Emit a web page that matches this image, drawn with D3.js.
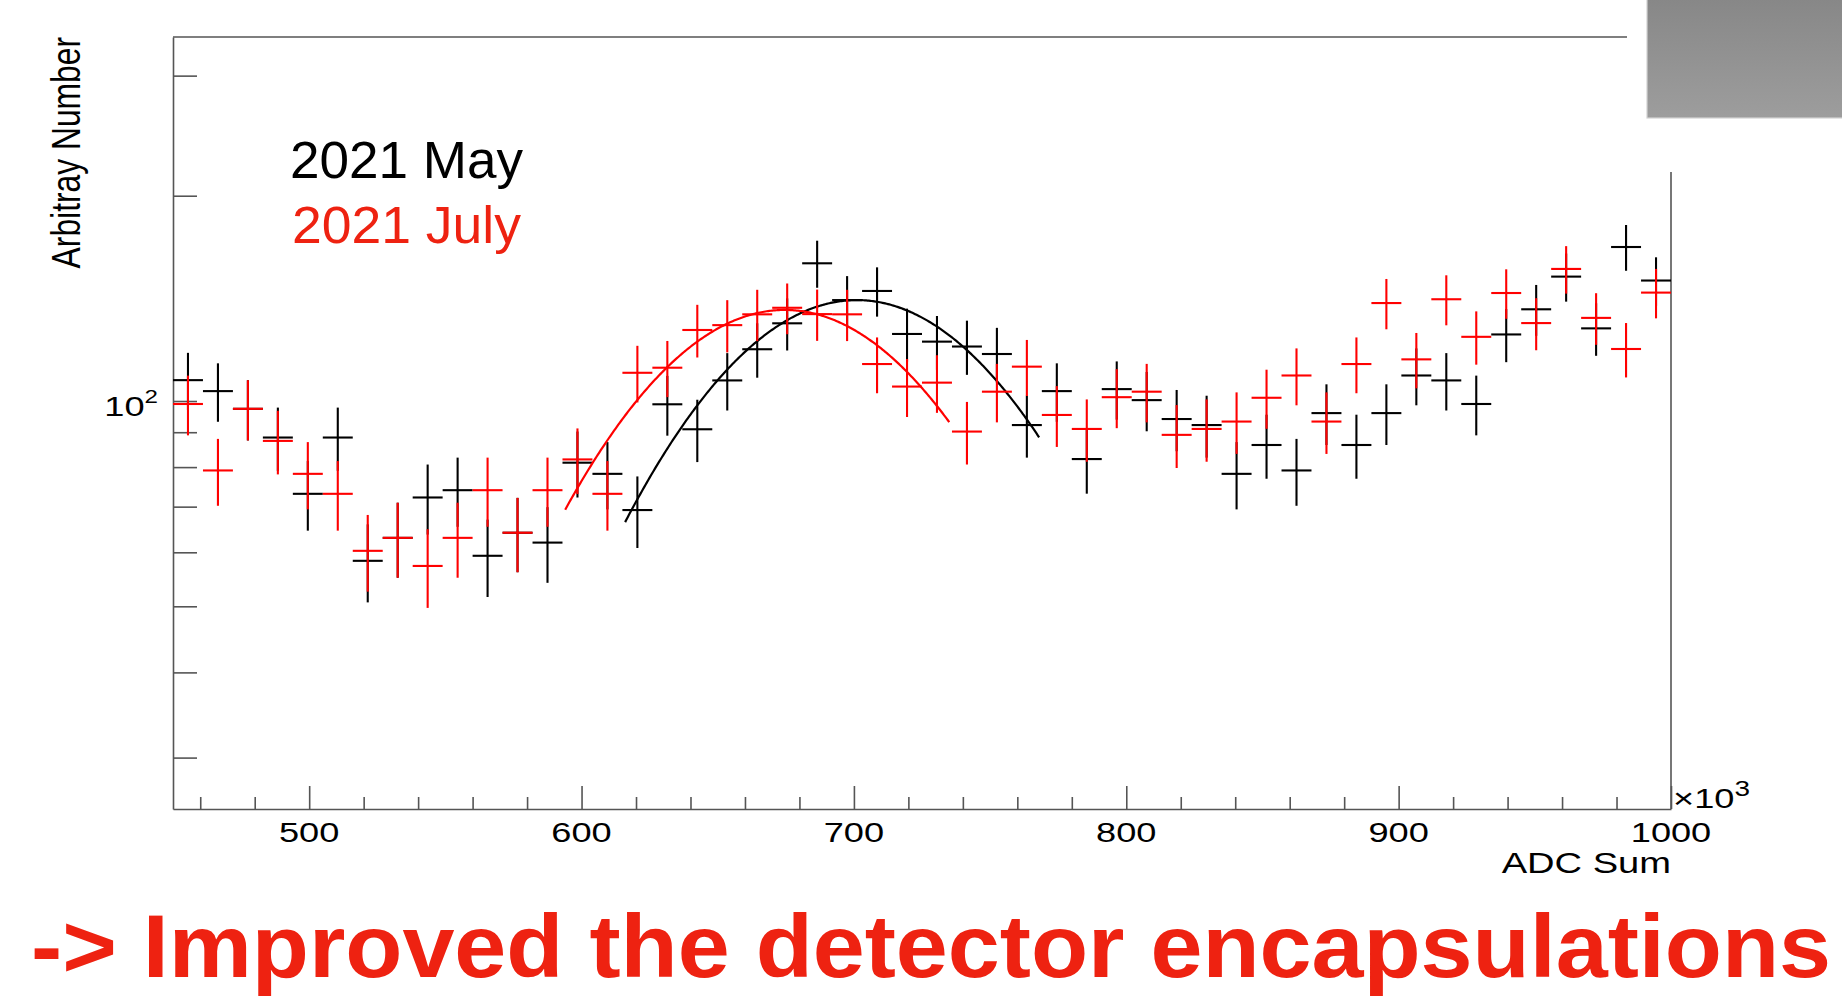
<!DOCTYPE html>
<html>
<head>
<meta charset="utf-8">
<script src="https://cdn.jsdelivr.net/npm/d3@7"></script>
<style>
  body { margin: 0; background: #fff; overflow: hidden; }
  text { font-family: "Liberation Sans", Arial, Helvetica, sans-serif; }
</style>
</head>
<body>
<script>
// bin centres (x10^3 ADC), 50 bins of width 11 from 450 to 1000
const binCenters = [
  455.5, 466.5, 477.5, 488.5, 499.5, 510.5, 521.5, 532.5, 543.5, 554.5,
  565.5, 576.5, 587.5, 598.5, 609.5, 620.5, 631.5, 642.5, 653.5, 664.5,
  675.5, 686.5, 697.5, 708.5, 719.5, 730.5, 741.5, 752.5, 763.5, 774.5,
  785.5, 796.5, 807.5, 818.5, 829.5, 840.5, 851.5, 862.5, 873.5, 884.5,
  895.5, 906.5, 917.5, 928.5, 939.5, 950.5, 961.5, 972.5, 983.5, 994.5
];
const binWidth = 11;

// 2021 May (black)
const mayCounts = [
  107.3, 103.4, 97.4, 88.4, 73.1, 88.4, 58.3, 63.0, 72.2, 74.0,
  59.3, 64.1, 62.0, 81.2, 78.2, 69.2, 98.9, 90.9, 107.2, 119.1,
  130.0, 159.2, 140.6, 145.0, 125.4, 122.2, 120.2, 117.2, 92.2, 103.4,
  82.2, 104.1, 100.3, 94.1, 92.2, 78.2, 86.2, 79.1, 96.0, 86.2,
  96.0, 109.0, 107.2, 99.0, 125.2, 136.3, 152.2, 127.8, 168.2, 150.2
];

// 2021 July (red)
const julyCounts = [
  99.0, 79.1, 97.4, 87.4, 78.2, 73.1, 60.3, 63.0, 57.3, 63.0,
  74.0, 64.1, 74.0, 82.1, 73.1, 110.0, 111.9, 127.1, 129.2, 134.0,
  137.0, 134.1, 134.0, 113.3, 105.0, 106.4, 90.2, 103.2, 112.3, 95.4,
  91.0, 101.3, 103.2, 89.2, 91.0, 93.3, 101.1, 109.0, 93.3, 113.3,
  139.2, 115.1, 141.0, 124.2, 144.0, 130.1, 156.2, 132.4, 119.2, 144.2
];

// gaussian fits: [constant, mean, sigma], and fit range
const mayFit = [140.6, 701.1, 69.5];
const mayFitRange = [616, 768];
const julyFit = [136.0, 674.6, 69.4];
const julyFitRange = [594, 735];

const xMajorTicks = [500, 600, 700, 800, 900, 1000];
const xMinorTicks = [460, 480, 520, 540, 560, 580, 620, 640, 660, 680, 720, 740, 760, 780,
                     820, 840, 860, 880, 920, 940, 960, 980];
const yTicks = [30, 40, 50, 60, 70, 80, 90, 100, 200, 300];

const W = 1842, H = 997;
const SX = 1.27;          // the pasted plot is stretched sideways
const red = "#ff0000";
const slideRed = "#ee2211";
const axisGrey = "#555";

const svg = d3.select("body").append("svg")
  .attr("xmlns", "http://www.w3.org/2000/svg")
  .attr("width", W)
  .attr("height", H);

svg.append("rect").attr("width", W).attr("height", H).attr("fill", "#fff");

const x = d3.scaleLinear().domain([450, 1000]).range([173, 1671]);
const y = d3.scaleLog().domain([25.22, 341.8]).range([809, 37]);

// frame
const frame = svg.append("g").attr("class", "frame")
  .attr("fill", "none").attr("stroke", axisGrey).attr("stroke-width", 1.6);
frame.append("line").attr("x1", x(450)).attr("x2", x(1000)).attr("y1", y.range()[1]).attr("y2", y.range()[1]);
frame.append("line").attr("x1", x(1000)).attr("x2", x(1000)).attr("y1", y.range()[0]).attr("y2", y.range()[1]);

// axes (ticks point inward like ROOT)
const xAxisG = svg.append("g").attr("transform", `translate(0,${y.range()[0]})`);
xAxisG.append("g").call(d3.axisBottom(x).tickValues(xMajorTicks).tickSize(-23).tickSizeOuter(0).tickFormat(""));
xAxisG.append("g").call(d3.axisBottom(x).tickValues(xMinorTicks).tickSize(-12).tickSizeOuter(0).tickFormat(""))
  .select(".domain").remove();

const yAxisG = svg.append("g").attr("transform", `translate(${x.range()[0]},0)`);
yAxisG.call(d3.axisLeft(y).tickValues(yTicks).tickSize(-24).tickSizeOuter(0).tickFormat(""));

svg.selectAll(".domain, .tick line").attr("stroke", axisGrey).attr("stroke-width", 1.6);

// stretched text helper
function label(g, px, py, str, size, anchor, extra) {
  const t = g.append("text")
    .attr("transform", `translate(${px},${py}) scale(${SX},1)` + (extra || ""))
    .attr("text-anchor", anchor)
    .attr("font-size", size)
    .attr("fill", "#000");
  if (str !== null) t.text(str);
  return t;
}

const labels = svg.append("g").attr("class", "labels");
xMajorTicks.forEach(v => label(labels, x(v), 842, String(v), 28.5, "middle"));

const exp3 = label(labels, 1673, 808, null, 28.5, "start");
exp3.append("tspan").text("\u00d710");
exp3.append("tspan").attr("font-size", 22).attr("dy", -12).text("3");

label(labels, x(1000), 873, "ADC Sum", 30, "end");

const exp2 = label(labels, 158, 415.5, null, 28.5, "end");
exp2.append("tspan").text("10");
exp2.append("tspan").attr("font-size", 19).attr("dy", -13).text("2");

label(labels, 80, 37, "Arbitray Number", 31.8, "end", " rotate(-90)");

// histograms with error crosses
function drawHist(counts, colour, cls) {
  const g = svg.append("g").attr("class", cls)
    .attr("stroke", colour).attr("stroke-width", 2.1).attr("fill", "none");
  const pts = binCenters.map((c, i) => ({ c, v: counts[i], e: Math.sqrt(counts[i]) })); // Poisson errors
  g.selectAll("line.h").data(pts).join("line").attr("class", "h")
    .attr("x1", d => x(d.c - binWidth / 2)).attr("x2", d => x(d.c + binWidth / 2))
    .attr("y1", d => y(d.v)).attr("y2", d => y(d.v));
  g.selectAll("line.v").data(pts).join("line").attr("class", "v")
    .attr("x1", d => x(d.c)).attr("x2", d => x(d.c))
    .attr("y1", d => y(d.v + d.e)).attr("y2", d => y(d.v - d.e));
}

function drawFit(p, range, colour) {
  const f = t => p[0] * Math.exp(-0.5 * Math.pow((t - p[1]) / p[2], 2));
  const xs = d3.range(range[0], range[1] + 0.001, 0.5);
  svg.append("path")
    .datum(xs)
    .attr("fill", "none")
    .attr("stroke", colour)
    .attr("stroke-width", 2.2)
    .attr("d", d3.line().x(t => x(t)).y(t => y(f(t))));
}

drawHist(mayCounts, "#000", "may");
drawFit(mayFit, mayFitRange, "#000");
drawHist(julyCounts, red, "july");
drawFit(julyFit, julyFitRange, red);

// legend text
svg.append("text").attr("x", 290).attr("y", 178).attr("font-size", 51)
  .attr("textLength", 233).attr("lengthAdjust", "spacingAndGlyphs")
  .attr("fill", "#000").text("2021 May");
svg.append("text").attr("x", 292).attr("y", 243).attr("font-size", 51)
  .attr("textLength", 229).attr("lengthAdjust", "spacingAndGlyphs")
  .attr("fill", slideRed).text("2021 July");

// slide overlay in the top right corner
svg.append("rect").attr("x", 1627).attr("y", 0).attr("width", W - 1627).attr("height", 172).attr("fill", "#fff");
const grad = svg.append("defs").append("linearGradient").attr("id", "greyBox")
  .attr("x1", 0).attr("x2", 0).attr("y1", 0).attr("y2", 1);
grad.append("stop").attr("offset", "0%").attr("stop-color", "#878787");
grad.append("stop").attr("offset", "100%").attr("stop-color", "#9d9d9d");
svg.append("rect").attr("x", 1647).attr("y", -2).attr("width", W - 1645).attr("height", 120)
  .attr("fill", "url(#greyBox)").attr("stroke", "#d2d2d2").attr("stroke-width", 1.2);

// slide caption
svg.append("text").attr("x", 31).attr("y", 977)
  .attr("font-size", 89).attr("font-weight", "bold")
  .attr("textLength", 1800).attr("lengthAdjust", "spacingAndGlyphs")
  .attr("fill", slideRed)
  .text("-> Improved the detector encapsulations");
</script>
</body>
</html>
